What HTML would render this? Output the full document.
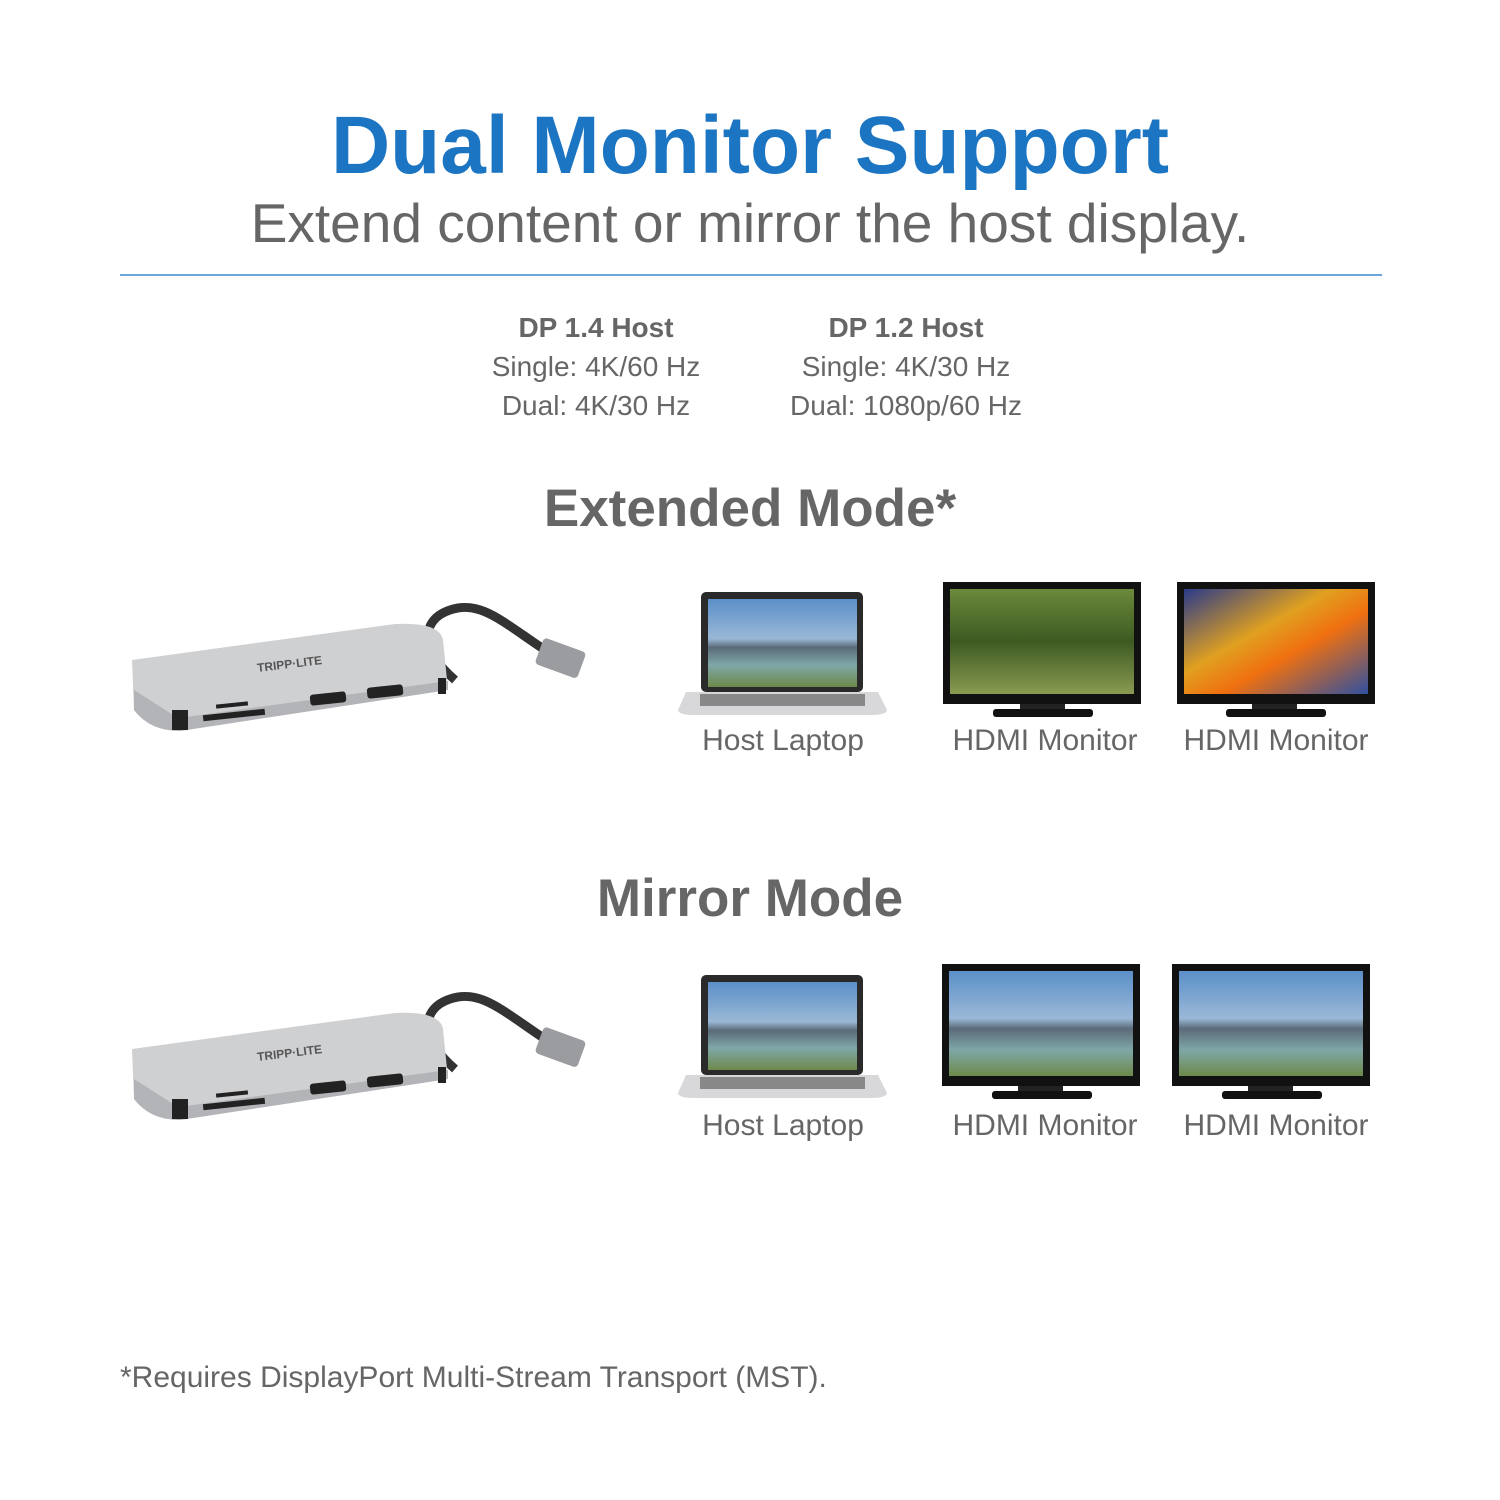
<!DOCTYPE html>
<html><head><meta charset="utf-8"><style>
body{margin:0;width:1500px;height:1500px;background:#fff;position:relative;font-family:"Liberation Sans","DejaVu Sans",sans-serif;overflow:hidden}
.t{position:absolute;left:0;width:1500px;text-align:center;white-space:nowrap}
.a{position:absolute;white-space:nowrap}
.lbl{position:absolute;width:240px;text-align:center;font-size:30px;color:#666}
.dp{position:absolute;width:300px;text-align:center;font-size:28px;color:#666;line-height:39px}
</style></head><body>
<div class="t" style="top:99px;font-size:82px;font-weight:bold;color:#1b75c2">Dual Monitor Support</div>
<div class="t" style="top:191px;font-size:55px;color:#666">Extend content or mirror the host display.</div>
<div class="a" style="left:120px;top:274px;width:1262px;height:2px;background:#6aa6dc"></div>
<div class="dp" style="left:446px;top:308px"><b>DP 1.4 Host</b><br>Single: 4K/60 Hz<br>Dual: 4K/30 Hz</div>
<div class="dp" style="left:756px;top:308px"><b>DP 1.2 Host</b><br>Single: 4K/30 Hz<br>Dual: 1080p/60 Hz</div>
<div class="t" style="top:478px;font-size:53px;font-weight:bold;color:#666">Extended Mode*</div>
<div class="t" style="top:868px;font-size:53px;font-weight:bold;color:#666">Mirror Mode</div>

<svg width="1500" height="1500" style="position:absolute;left:0;top:0">
<defs>
<linearGradient id="city" x1="0" y1="0" x2="0" y2="1"><stop offset="0" stop-color="#5b8fc9"/><stop offset=".45" stop-color="#9ab8d6"/><stop offset=".55" stop-color="#5a6a78"/><stop offset=".75" stop-color="#7fa7a8"/><stop offset="1" stop-color="#6d8a4a"/></linearGradient>
<linearGradient id="forest" x1="0" y1="0" x2="0" y2="1"><stop offset="0" stop-color="#6b8a3a"/><stop offset=".5" stop-color="#3d5a22"/><stop offset="1" stop-color="#8a9a50"/></linearGradient>
<linearGradient id="light" x1="0" y1="0" x2="1" y2="1"><stop offset="0" stop-color="#2a3a8a"/><stop offset=".4" stop-color="#e0a020"/><stop offset=".6" stop-color="#f07010"/><stop offset="1" stop-color="#3050a0"/></linearGradient>
<g id="hub">
<path d="M455,680 C420,650 420,620 450,610 C480,600 500,620 545,650" fill="none" stroke="#333" stroke-width="9"/>
<rect x="538" y="644" width="45" height="28" rx="4" fill="#9a9ca0" transform="rotate(20 560 658)"/>
<path d="M132,660 L395,624 Q440,622 443,640 L448,690 L180,731 Q150,731 134,710 Z" fill="#cfd0d2"/>
<path d="M134,690 L178,718 L448,681 L448,690 L180,731 Q150,731 134,710 Z" fill="#b3b4b7"/>
<rect x="310" y="693" width="36" height="11" rx="3" fill="#222" transform="rotate(-6 328 698)"/>
<rect x="367" y="686" width="36" height="11" rx="3" fill="#222" transform="rotate(-6 385 691)"/>
<rect x="203" y="712" width="62" height="6" fill="#222" transform="rotate(-6 234 715)"/>
<rect x="216" y="703" width="32" height="4" fill="#222" transform="rotate(-6 232 705)"/>
<rect x="172" y="710" width="16" height="20" fill="#222"/>
<rect x="438" y="678" width="8" height="16" fill="#222"/>
<text x="290" y="668" font-size="12" font-weight="bold" fill="#555" text-anchor="middle" transform="rotate(-7 290 668)">TRIPP·LITE</text>
</g>
<g id="lap">
<rect x="701" y="592" width="162" height="100" rx="5" fill="#2a2a2a"/>
<rect x="708" y="599" width="149" height="88" fill="url(#city)"/>
<path d="M686,692 L878,692 L887,710 Q887,715 870,715 L695,715 Q678,715 678,710 Z" fill="#d8d8da"/>
<rect x="700" y="694" width="165" height="12" fill="#888"/>
</g>
</defs>
<use href="#hub"/>
<use href="#hub" y="389"/>
<use href="#lap"/>
<use href="#lap" y="383"/>
<rect x="943" y="582" width="198" height="122" fill="#111"/><rect x="950" y="589" width="184" height="105" fill="url(#forest)"/>
<rect x="1020" y="704" width="45" height="6" fill="#222"/><rect x="993" y="709" width="100" height="8" rx="3" fill="#111"/>
<rect x="1177" y="582" width="198" height="122" fill="#111"/><rect x="1184" y="589" width="184" height="105" fill="url(#light)"/>
<rect x="1252" y="704" width="45" height="6" fill="#222"/><rect x="1226" y="709" width="100" height="8" rx="3" fill="#111"/>
<rect x="942" y="964" width="198" height="122" fill="#111"/><rect x="949" y="971" width="184" height="105" fill="url(#city)"/>
<rect x="1018" y="1086" width="45" height="6" fill="#222"/><rect x="992" y="1091" width="100" height="8" rx="3" fill="#111"/>
<rect x="1172" y="964" width="198" height="122" fill="#111"/><rect x="1179" y="971" width="184" height="105" fill="url(#city)"/>
<rect x="1248" y="1086" width="45" height="6" fill="#222"/><rect x="1222" y="1091" width="100" height="8" rx="3" fill="#111"/>
</svg>

<div class="lbl" style="left:663px;top:724px">Host Laptop</div>
<div class="lbl" style="left:925px;top:724px">HDMI Monitor</div>
<div class="lbl" style="left:1156px;top:724px">HDMI Monitor</div>
<div class="lbl" style="left:663px;top:1109px">Host Laptop</div>
<div class="lbl" style="left:925px;top:1109px">HDMI Monitor</div>
<div class="lbl" style="left:1156px;top:1109px">HDMI Monitor</div>
<div class="a" style="left:120px;top:1361px;font-size:30px;color:#666">*Requires DisplayPort Multi-Stream Transport (MST).</div>
</body></html>
